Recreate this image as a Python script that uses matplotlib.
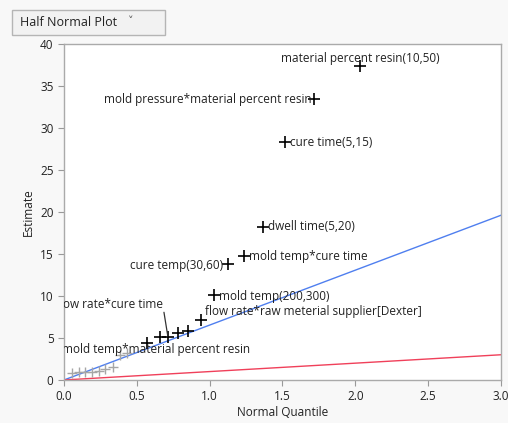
import matplotlib.pyplot as plt
from matplotlib.patches import FancyBboxPatch

plt.rcParams['font.family'] = ['Open Sans', 'DejaVu Sans']

# half normal quantiles and absolute estimates
gray_q = [0.055, 0.103, 0.144, 0.192, 0.240, 0.281, 0.336, 0.384, 0.432]
gray_est = [0.83, 0.92, 0.92, 0.99, 1.11, 1.27, 1.58, 2.98, 3.18]

black_q = [0.570, 0.659, 0.714, 0.782, 0.851, 0.940, 1.030, 1.126, 1.235,
           1.366, 1.517, 1.716, 2.032]
black_est = [4.37, 5.08, 5.08, 5.56, 5.87, 7.14, 10.1, 13.75, 14.76,
             18.2, 28.25, 33.4, 37.4]

labels = {
    0: "mold temp*material percent resin",
    2: "flow rate*cure time",
    5: "flow rate*raw meterial supplier[Dexter]",
    6: "mold temp(200,300)",
    7: "cure temp(30,60)",
    8: "mold temp*cure time",
    9: "dwell time(5,20)",
    10: "cure time(5,15)",
    11: "mold pressure*material percent resin",
    12: "material percent resin(10,50)",
}

blue_slope = 6.53
red_slope = 1.0

fig = plt.figure(figsize=(5.08, 4.23), dpi=100, facecolor='#f8f8f8')
ax = fig.add_axes([0.126, 0.1017, 0.86, 0.795])
ax.set_facecolor('white')

xs = [0, 3]
ax.plot(xs, [blue_slope * x for x in xs], color='#4f7fef', lw=1.0, zorder=2)
ax.plot(xs, [red_slope * x for x in xs], color='#f0405a', lw=1.0, zorder=2)

ax.plot(gray_q, gray_est, ls='none', marker='+', ms=7, mew=1.0,
        color='#a6a6a6', zorder=3)
ax.plot(black_q, black_est, ls='none', marker='+', ms=8, mew=1.2,
        color='black', zorder=3)

# label offsets in points (dx, dy) and horizontal alignment
place = {
    0: (-61.5, -4.3, 'left'),
    2: (-3.6, 23.8, 'right'),
    5: (3, 5.8, 'left'),
    6: (3.6, -0.7, 'left'),
    7: (-3.6, -0.7, 'right'),
    8: (3.6, -0.7, 'left'),
    9: (3.6, 0, 'left'),
    10: (3.6, 0, 'left'),
    11: (-2, 0, 'right'),
    12: (0, 5, 'center'),
}
for i, txt in labels.items():
    dx, dy, ha = place[i]
    t = ax.annotate(txt, (black_q[i], black_est[i]), xytext=(dx, dy),
                    textcoords='offset points', ha=ha, va='center',
                    fontsize=8.5, color='#222222')
    t.set_clip_on(True)
    t.set_clip_box(ax.bbox)
    t.set_clip_path(ax.patch)

# leader line for "flow rate*cure time"
ax.annotate('', (black_q[2], black_est[2]), xytext=(-2.9, 18),
            textcoords='offset points',
            arrowprops=dict(arrowstyle='-', color='#333333', lw=0.9,
                            shrinkA=0, shrinkB=1))

ax.set_xlim(0, 3)
ax.set_ylim(0, 40)
ax.set_xticks([0, 0.5, 1.0, 1.5, 2.0, 2.5, 3.0])
ax.set_xticklabels(['0.0', '0.5', '1.0', '1.5', '2.0', '2.5', '3.0'])
ax.set_yticks(range(0, 41, 5))
ax.tick_params(labelsize=8.5, colors='#999999', labelcolor='#222222',
               length=4, width=0.8)
for s in ax.spines.values():
    s.set_color('#aaaaaa')
    s.set_linewidth(1.0)
ax.set_xlabel('Normal Quantile', fontsize=8.5, color='#222222', labelpad=2)
ax.set_ylabel('Estimate', fontsize=8.5, color='#222222', labelpad=4)

# the "Half Normal Plot" dropdown button
btn = FancyBboxPatch((12 / 508, 1 - 35 / 423), 153 / 508, 25 / 423,
                     boxstyle='square,pad=0', transform=fig.transFigure,
                     facecolor='#f2f2f2', edgecolor='#b5b5b5', lw=1.0)
fig.patches.append(btn)
fig.text(20 / 508, 1 - 22.5 / 423, 'Half Normal Plot', fontsize=9,
         va='center', ha='left', color='#222222')
fig.text(128 / 508, 1 - 21 / 423, '\u02c5', fontsize=8, va='center',
         ha='left', color='#555555')

fig.savefig('out.png', dpi=100, facecolor=fig.get_facecolor())
